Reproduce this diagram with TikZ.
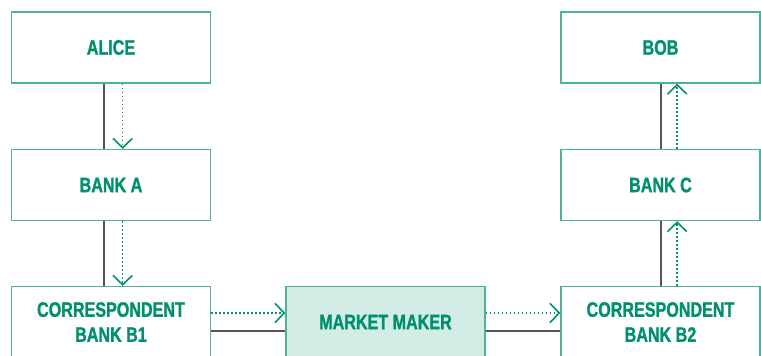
\documentclass[tikz,border=0pt]{standalone}
\usepackage{fontspec}
\setmainfont{Liberation Sans}[FakeStretch=0.77, BoldFeatures={FakeBold=1.3}]
\usetikzlibrary{arrows.meta}
\definecolor{boxgreen}{HTML}{4DB396}
\definecolor{textgreen}{HTML}{00906E}
\definecolor{makerfill}{HTML}{D3ECE6}
\definecolor{wiregray}{HTML}{555555}
\tikzstyle{partybox} = [draw=boxgreen, line width=1pt, fill=white,
    rectangle, minimum width=149.25pt, minimum height=53.25pt, inner sep=0pt,
    text=textgreen, align=center, font=\fontsize{15.7}{18.75}\selectfont\bfseries]
\tikzstyle{makerbox} = [partybox, fill=makerfill]
\tikzstyle{wire} = [draw=wiregray, line width=1.5pt]
\tikzstyle{flow} = [draw=textgreen, line width=1.1pt, dash pattern=on 1.1pt off 1.9pt,
    -{Straight Barb[length=7pt, width=14.5pt, line width=1.2pt]}]

\begin{document}
\begin{tikzpicture}[x=0.75pt, y=-0.75pt]
                \useasboundingbox (0,0) rectangle (761,355);
                % left column
                \node [partybox] (alice) at (111,47.5) {ALICE};
                \node [partybox] (banka) at (111,185) {BANK A};
                \node [partybox] (corrb1) at (111,322) {CORRESPONDENT\\BANK B1};
                % middle
                \node [makerbox] (maker) at (385.5,322) {MARKET MAKER};
                % right column
                \node [partybox] (bob) at (660.5,47.5) {BOB};
                \node [partybox] (bankc) at (660.5,185) {BANK C};
                \node [partybox] (corrb2) at (660.5,322) {CORRESPONDENT\\BANK B2};
                % solid links
                \draw [wire] ([xshift=-5.5pt]alice.south) -- ([xshift=-5.5pt]banka.north);
                \draw [wire] ([xshift=-5.5pt]banka.south) -- ([xshift=-5.5pt]corrb1.north);
                \draw [wire] ([yshift=-6.5pt]corrb1.east) -- ([yshift=-6.5pt]maker.west);
                \draw [wire] ([yshift=-6.5pt]maker.east) -- ([yshift=-6.5pt]corrb2.west);
                \draw [wire] (corrb2.north) -- (bankc.south);
                \draw [wire] (bankc.north) -- (bob.south);
                % payment flow
                \draw [flow] ([xshift=8.75pt]alice.south) -- ([xshift=8.75pt]banka.north);
                \draw [flow] ([xshift=8.75pt]banka.south) -- ([xshift=8.75pt]corrb1.north);
                \draw [flow] ([yshift=6.75pt]corrb1.east) -- ([yshift=6.75pt]maker.west);
                \draw [flow] ([yshift=6.75pt]maker.east) -- ([yshift=6.75pt]corrb2.west);
                \draw [flow] ([xshift=12.5pt]corrb2.north) -- ([xshift=12.5pt]bankc.south);
                \draw [flow] ([xshift=12.5pt]bankc.north) -- ([xshift=12.5pt]bob.south);
            \end{tikzpicture}
\end{document}
